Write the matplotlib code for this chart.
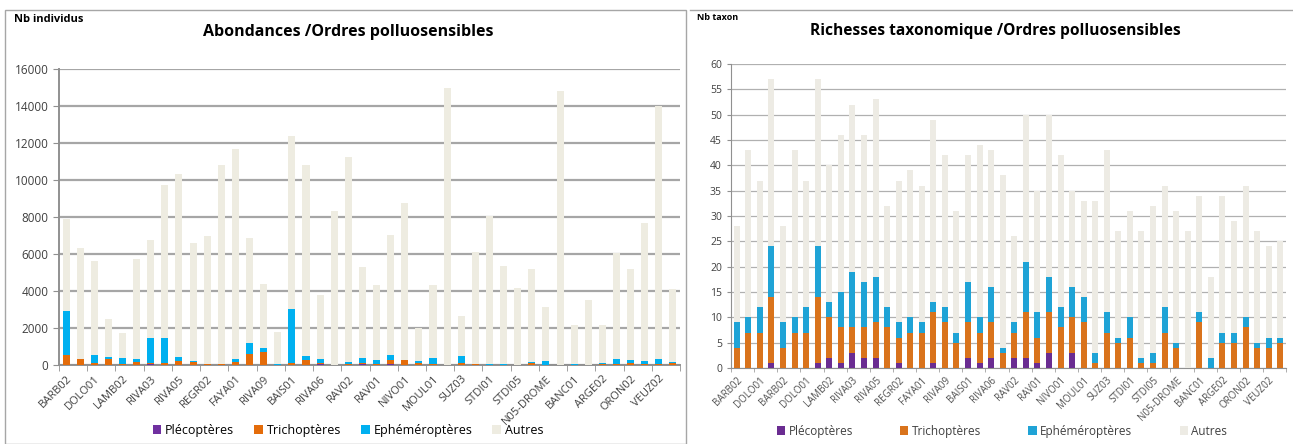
import numpy as np
import matplotlib.pyplot as plt
from matplotlib.patches import Rectangle
from matplotlib.ticker import FixedLocator

# --- Abondances (nb individus), 44 stations ---
ab_labels = ['BARB02', 'DOLO01', 'LAMB02', 'RIVA03', 'RIVA05', 'REGR02', 'FAYA01',
             'RIVA09', 'BAIS01', 'RIVA06', 'RAV02', 'RAV01', 'NIVO01', 'MOUL01',
             'SUZ03', 'STDI01', 'STDI05', 'N05-DROME', 'BANC01', 'ARGE02',
             'ORON02', 'VEUZ02']
ab_total = [7900, 6350, 5600, 2500, 1750, 5750, 6750, 9750, 10300, 6600, 7000,
            10800, 11650, 6850, 4400, 1800, 12400, 10800, 3800, 8350, 11250, 5300,
            4300, 7050, 8750, 2000, 4300, 15000, 2650, 6100, 8050, 5350, 4150, 5200,
            3150, 14800, 2150, 3500, 2150, 6050, 5200, 7700, 14000, 4100]
ab_pleco = [0, 0, 0, 0, 0, 0, 30, 0, 0, 0, 0, 0, 0, 0, 0, 0, 0, 0, 50, 0, 0, 40,
            0, 30, 0, 0, 0, 0, 0, 0, 0, 0, 0, 0, 0, 0, 0, 0, 0, 0, 0, 0, 0, 0]
ab_tricho = [550, 300, 100, 300, 50, 150, 100, 100, 200, 150, 30, 30, 150, 600,
             700, 0, 100, 250, 50, 0, 80, 60, 50, 220, 250, 100, 30, 0, 100, 50,
             0, 0, 0, 100, 20, 0, 0, 0, 30, 50, 100, 80, 80, 100]
ab_ephem = [2350, 0, 430, 130, 320, 200, 1320, 1350, 250, 80, 50, 50, 180, 580,
            200, 50, 2950, 250, 250, 0, 90, 300, 200, 300, 30, 130, 350, 0, 400, 0,
            50, 80, 0, 80, 180, 0, 40, 0, 90, 250, 180, 120, 270, 80]

# --- Richesse taxonomique (nb taxon), 48 stations ---
rt_labels = ['BARB02', 'DOLO01', 'BARB02', 'DOLO01', 'LAMB02', 'RIVA03', 'RIVA05',
             'REGR02', 'FAYA01', 'RIVA09', 'BAIS01', 'RIVA06', 'RAV02', 'RAV01',
             'NIVO01', 'MOUL01', 'SUZ03', 'STDI01', 'STDI05', 'N05-DROME',
             'BANC01', 'ARGE02', 'ORON02', 'VEUZ02']
rt_total = [28, 43, 37, 57, 28, 43, 37, 57, 40, 46, 52, 46, 53, 32, 37, 39, 36, 49,
            42, 31, 42, 44, 43, 38, 26, 50, 35, 50, 42, 35, 33, 33, 43, 27, 31, 27,
            32, 36, 31, 27, 34, 18, 34, 29, 36, 27, 24, 25]
rt_pleco = [0, 0, 0, 1, 0, 0, 0, 1, 2, 1, 3, 2, 2, 0, 1, 0, 0, 1, 0, 0, 2, 1, 2, 0,
            2, 2, 1, 3, 0, 3, 0, 0, 0, 0, 0, 0, 0, 0, 0, 0, 0, 0, 0, 0, 0, 0, 0, 0]
rt_tricho = [4, 7, 7, 13, 4, 7, 7, 13, 8, 7, 5, 6, 7, 8, 5, 7, 7, 10, 9, 5, 7, 6, 7,
             3, 5, 9, 5, 8, 8, 7, 9, 1, 7, 5, 6, 1, 1, 7, 4, 0, 9, 0, 5, 5, 8, 4, 4, 5]
rt_ephem = [5, 3, 5, 10, 5, 3, 5, 10, 3, 7, 11, 9, 9, 4, 3, 3, 2, 2, 3, 2, 8, 3, 7,
            1, 2, 10, 5, 7, 4, 6, 5, 2, 4, 1, 4, 1, 2, 5, 1, 0, 2, 2, 2, 2, 2, 1, 2, 1]

series_names = ['Plécoptères', 'Trichoptères', 'Ephéméroptères', 'Autres']

plt.rcParams['font.family'] = ['Open Sans', 'DejaVu Sans']

fig = plt.figure(figsize=(12.93, 4.44), dpi=100)
W, H = 1293.0, 444.0

# panel borders
fig.patches.append(Rectangle((5 / W, 0), 681 / W, 434 / H, transform=fig.transFigure,
                             fill=False, edgecolor='#A6A6A6', linewidth=1))
fig.add_artist(plt.Line2D([690 / W, 1], [434 / H, 434 / H], transform=fig.transFigure,
                          color='#A6A6A6', linewidth=1))


def stacked(ax, total, pleco, tricho, ephem, colors, width, gridcol, gridlw):
    total = np.array(total)
    p = np.array(pleco)
    t = np.array(tricho)
    e = np.array(ephem)
    autres = total - p - t - e
    x = np.arange(len(total))
    ax.bar(x, p, width, color=colors[0], label=series_names[0], zorder=3)
    ax.bar(x, t, width, bottom=p, color=colors[1], label=series_names[1], zorder=3)
    ax.bar(x, e, width, bottom=p + t, color=colors[2], label=series_names[2], zorder=3)
    ax.bar(x, autres, width, bottom=p + t + e, color=colors[3], label=series_names[3], zorder=3)
    ax.set_xlim(-0.5, len(total) - 0.5)
    ax.yaxis.grid(True, color=gridcol, linewidth=gridlw, zorder=0)
    ax.set_axisbelow(True)
    for s in ['top', 'right']:
        ax.spines[s].set_visible(False)
    ax.spines['left'].set_color('#909090')
    ax.spines['bottom'].set_color('#909090')
    ax.tick_params(axis='y', colors='#404040', length=4, color='#909090')
    return x


# ---- left chart ----
ax1 = fig.add_axes([59 / W, 79 / H, 621 / W, 296 / H])
x1 = stacked(ax1, ab_total, ab_pleco, ab_tricho, ab_ephem,
             ['#7030A0', '#E46C0A', '#00B0F0', '#EEECE1'], 0.5, '#A6A6A6', 1.6)
ax1.set_ylim(0, 16000)
ax1.set_yticks(range(0, 16001, 2000))
ax1.tick_params(axis='y', labelsize=8.5)
ax1.set_xticks(x1[::2])
ax1.set_xticklabels(ab_labels, rotation=45, ha='right', rotation_mode='anchor',
                    fontsize=8, color='#404040')
ax1.tick_params(axis='x', length=0, pad=6)
ax1.xaxis.set_minor_locator(FixedLocator(np.arange(-0.5, len(ab_total), 2)))
ax1.tick_params(axis='x', which='minor', length=4, color='#909090')
ax1.spines['left'].set_linewidth(1.4)
ax1.spines['bottom'].set_linewidth(1.4)
fig.text(348 / W, 1 - 32 / H, 'Abondances /Ordres polluosensibles', ha='center',
         va='center', fontsize=11.5, fontweight='bold')
fig.text(14 / W, 1 - 20 / H, 'Nb individus', ha='left', va='center', fontsize=8,
         fontweight='bold')
h, l = ax1.get_legend_handles_labels()
fig.legend(h, l, loc='center', bbox_to_anchor=(348 / W, 1 - 430 / H), ncol=4,
           frameon=False, fontsize=9, handlelength=0.7, handleheight=0.7,
           handletextpad=0.3, columnspacing=1.6)

# ---- right chart ----
ax2 = fig.add_axes([731 / W, 76 / H, 555 / W, 304 / H])
x2 = stacked(ax2, rt_total, rt_pleco, rt_tricho, rt_ephem,
             ['#6A2C91', '#D9731C', '#1FA3D6', '#EDEBE4'], 0.52, '#B0B0B0', 0.9)
ax2.set_ylim(0, 60)
ax2.set_yticks(range(0, 61, 5))
ax2.tick_params(axis='y', labelsize=7.5, length=3)
ax2.set_xticks(x2[::2])
ax2.set_xticklabels(rt_labels, rotation=45, ha='right', rotation_mode='anchor',
                    fontsize=7, color='#505050')
ax2.tick_params(axis='x', length=0, pad=5)
ax2.xaxis.set_minor_locator(FixedLocator(np.arange(-0.5, len(rt_total), 2)))
ax2.tick_params(axis='x', which='minor', length=3, color='#A0A0A0')
fig.text(995 / W, 1 - 31 / H, 'Richesses taxonomique /Ordres polluosensibles',
         ha='center', va='center', fontsize=11.2, fontweight='bold')
fig.text(697 / W, 1 - 17 / H, 'Nb taxon', ha='left', va='center', fontsize=6.5,
         fontweight='bold')
h, l = ax2.get_legend_handles_labels()
fig.legend(h, l, loc='center', bbox_to_anchor=(1002 / W, 1 - 431 / H), ncol=4,
           frameon=False, fontsize=8.5, handlelength=0.7, handleheight=0.7,
           handletextpad=0.3, columnspacing=4.0, labelcolor='#404040')

fig.savefig('out.png', dpi=100)
